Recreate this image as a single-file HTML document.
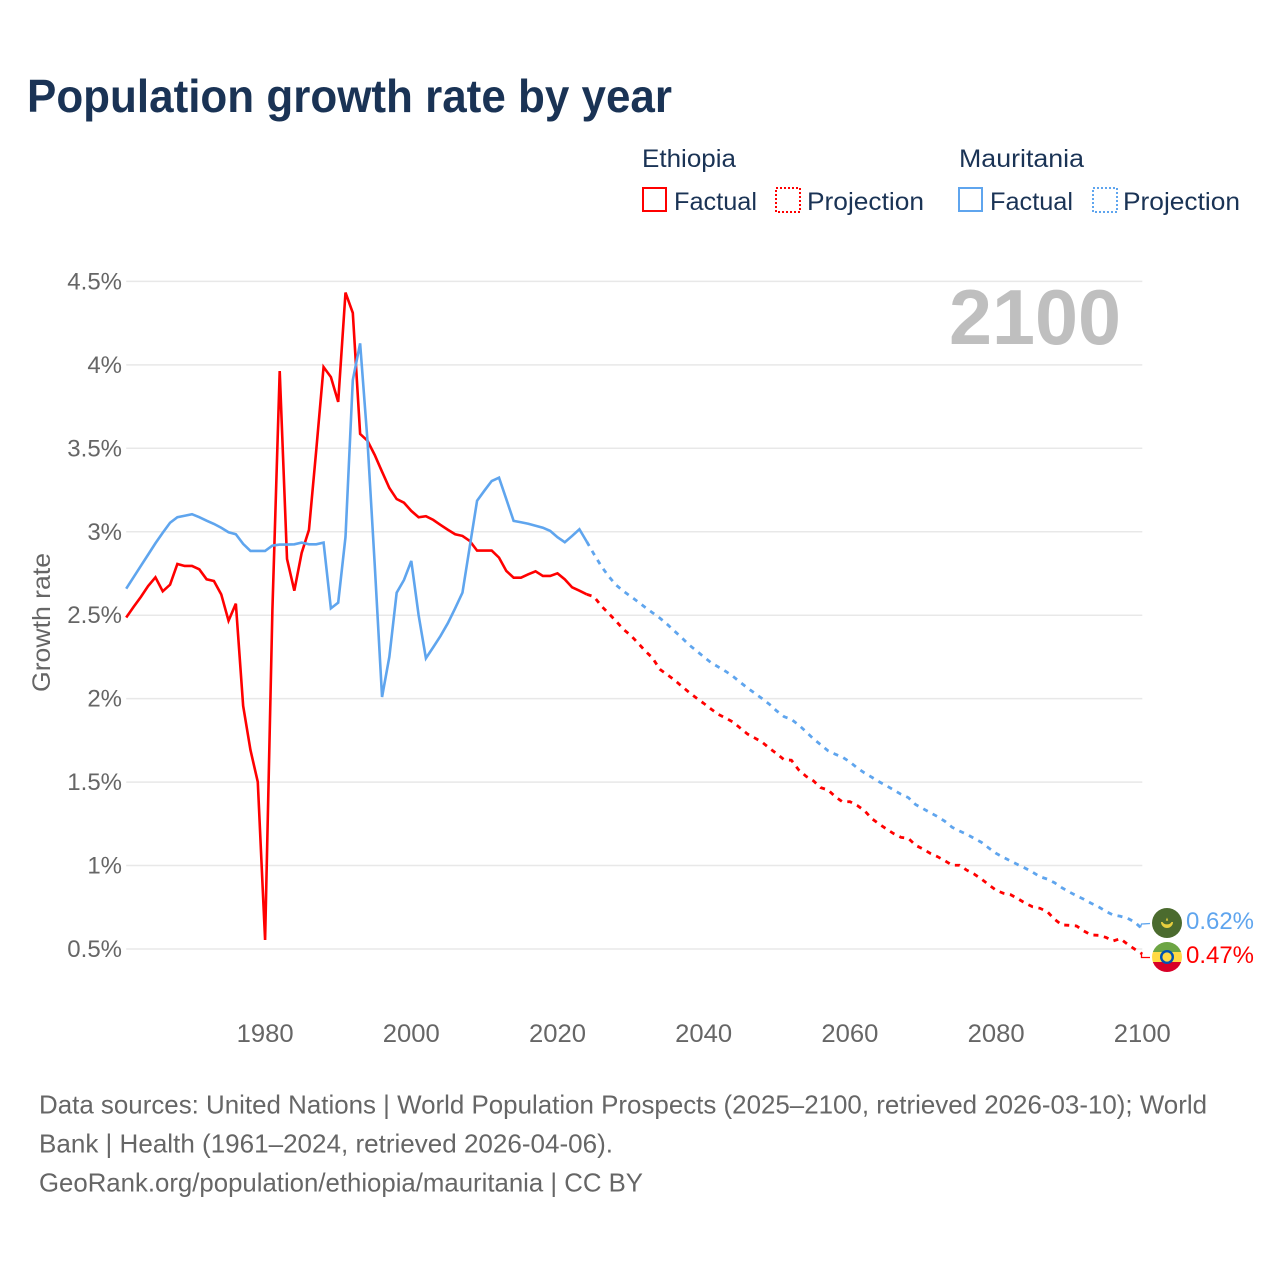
<!DOCTYPE html>
<html lang="en">
<head>
<meta charset="utf-8">
<title>Population growth rate by year</title>
<style>
html,body{margin:0;padding:0;background:#fff;width:1280px;height:1280px;overflow:hidden}
svg{display:block}
text{font-family:"Liberation Sans",sans-serif}
.navy{fill:#1a3355}
.gray{fill:#666}
</style>
</head>
<body>
<svg id="chart" xmlns="http://www.w3.org/2000/svg" width="1280" height="1280" viewBox="0 0 1280 1280">
  <rect width="1280" height="1280" fill="#fff"/>
  <text class="navy" x="27" y="112" font-size="46" font-weight="700" textLength="645" lengthAdjust="spacingAndGlyphs">Population growth rate by year</text>

  <g>
    <text class="navy" x="642" y="167" font-size="25" textLength="94" lengthAdjust="spacingAndGlyphs">Ethiopia</text>
    <g>
      <rect x="643" y="188" width="23" height="23" fill="none" stroke="#ff0000" stroke-width="2"/>
      <text class="navy" x="674" y="210" font-size="25" textLength="83" lengthAdjust="spacingAndGlyphs">Factual</text>
    </g>
    <g>
      <rect x="776" y="188" width="24" height="24" fill="none" stroke="#ff0000" stroke-width="2" stroke-dasharray="2 2"/>
      <text class="navy" x="807" y="210" font-size="25" textLength="117" lengthAdjust="spacingAndGlyphs">Projection</text>
    </g>
    <text class="navy" x="959" y="167" font-size="25" textLength="125" lengthAdjust="spacingAndGlyphs">Mauritania</text>
    <g>
      <rect x="959" y="188" width="23" height="23" fill="none" stroke="#5fa5ee" stroke-width="2"/>
      <text class="navy" x="990" y="210" font-size="25" textLength="83" lengthAdjust="spacingAndGlyphs">Factual</text>
    </g>
    <g>
      <rect x="1093" y="188" width="24" height="24" fill="none" stroke="#5fa5ee" stroke-width="2" stroke-dasharray="2 2"/>
      <text class="navy" x="1123" y="210" font-size="25" textLength="117" lengthAdjust="spacingAndGlyphs">Projection</text>
    </g>
  </g>

  <g id="grid"></g>
  <g id="yticks"></g>
  <g id="xticks"></g>
  <text class="gray" transform="translate(50,692) rotate(-90)" font-size="25" textLength="139" lengthAdjust="spacingAndGlyphs">Growth rate</text>
  <text x="949" y="344" font-size="78" font-weight="700" fill="#bfbfbf" textLength="172" lengthAdjust="spacingAndGlyphs">2100</text>

  <g id="series"></g>

  <g fill="none" stroke-width="1.3">
    <path d="M1140.5 927.5 L1141.5 924 L1150 923.5" stroke="#5fa5ee"/>
    <path d="M1141.5 953 V957.5 H1150" stroke="#ff0000"/>
  </g>

  <defs>
    <clipPath id="eth-clip"><circle cx="1167" cy="957" r="15"/></clipPath>
  </defs>
  <g>
    <circle cx="1167" cy="923" r="15" fill="#4b6b2e"/>
    <path d="M1161 922 A6 6 0 0 0 1173 922 L1171.5 922 A4.8 3.6 0 0 1 1162.5 922 Z" fill="#e8cf3e"/>
    <path d="M1167 917.5 L1168.2 920.6 L1165.8 920.6 Z" fill="#e8cf3e"/>
  </g>
  <g clip-path="url(#eth-clip)">
    <rect x="1152" y="942" width="30" height="10" fill="#6da544"/>
    <rect x="1152" y="952" width="30" height="10" fill="#ffda44"/>
    <rect x="1152" y="962" width="30" height="10" fill="#d80027"/>
    <circle cx="1167" cy="957" r="7" fill="#0052b4"/>
    <circle cx="1167" cy="957" r="4.6" fill="#ffda44"/>
  </g>
  <text x="1186" y="929" font-size="24" fill="#5fa5ee" textLength="68" lengthAdjust="spacingAndGlyphs">0.62%</text>
  <text x="1186" y="963" font-size="24" fill="#ff0000" textLength="68" lengthAdjust="spacingAndGlyphs">0.47%</text>

  <g>
    <text class="gray" x="39" y="1113.5" font-size="26" textLength="1168" lengthAdjust="spacingAndGlyphs">Data sources: United Nations | World Population Prospects (2025–2100, retrieved 2026-03-10); World</text>
    <text class="gray" x="39" y="1152.5" font-size="26" textLength="574" lengthAdjust="spacingAndGlyphs">Bank | Health (1961–2024, retrieved 2026-04-06).</text>
    <text class="gray" x="39" y="1191.5" font-size="26" textLength="604" lengthAdjust="spacingAndGlyphs">GeoRank.org/population/ethiopia/mauritania | CC BY</text>
  </g>
</svg>

<script>
const firstYear = 1961;
const lastFactualYear = 2024;
const yTickValues = [0.5, 1, 1.5, 2, 2.5, 3, 3.5, 4, 4.5];
const yTickLabels = ["0.5%", "1%", "1.5%", "2%", "2.5%", "3%", "3.5%", "4%", "4.5%"];
const xTickYears = [1980, 2000, 2020, 2040, 2060, 2080, 2100];

const ethiopiaFactual = [
  2.486,2.549,2.609,2.675,2.727,2.643,2.683,2.807,2.795,2.795,
  2.775,2.715,2.705,2.625,2.467,2.569,1.956,1.692,1.501,0.554,
  2.531,3.963,2.837,2.647,2.873,3.011,3.490,3.987,3.927,3.778,
  4.433,4.311,3.586,3.546,3.460,3.360,3.262,3.196,3.174,3.125,
  3.087,3.093,3.071,3.041,3.012,2.985,2.975,2.945,2.887,2.887,
  2.887,2.845,2.765,2.725,2.725,2.745,2.763,2.735,2.735,2.751,
  2.715,2.667,2.647,2.625
];
const ethiopiaProjection = [
  2.611,2.555,2.511,2.465,2.416,2.380,2.334,2.286,2.244,2.176,
  2.144,2.112,2.074,2.038,2.004,1.972,1.938,1.906,1.884,1.860,
  1.824,1.788,1.764,1.739,1.703,1.670,1.634,1.631,1.573,1.535,
  1.508,1.467,1.453,1.413,1.381,1.383,1.360,1.329,1.281,1.249,
  1.219,1.191,1.169,1.163,1.121,1.099,1.073,1.053,1.029,1.002,
  1.002,0.972,0.949,0.919,0.885,0.852,0.834,0.825,0.801,0.774,
  0.753,0.744,0.724,0.678,0.644,0.642,0.638,0.608,0.584,0.582,
  0.570,0.548,0.562,0.528,0.498,0.470
];
const mauritaniaFactual = [
  2.659,2.727,2.795,2.863,2.931,2.994,3.054,3.087,3.096,3.105,
  3.087,3.066,3.047,3.024,2.997,2.985,2.927,2.885,2.885,2.885,
  2.917,2.923,2.923,2.925,2.935,2.925,2.925,2.935,2.541,2.575,
  2.969,3.909,4.129,3.550,2.801,2.010,2.251,2.635,2.711,2.825,
  2.501,2.242,2.308,2.376,2.452,2.541,2.635,2.911,3.186,3.246,
  3.304,3.324,3.195,3.065,3.057,3.048,3.036,3.024,3.005,2.967,
  2.937,2.975,3.015,2.941
];
const mauritaniaProjection = [
  2.865,2.793,2.733,2.681,2.645,2.613,2.581,2.547,2.515,2.483,
  2.446,2.405,2.365,2.322,2.287,2.251,2.216,2.190,2.164,2.134,
  2.098,2.064,2.032,2.000,1.966,1.926,1.892,1.876,1.842,1.802,
  1.760,1.724,1.688,1.667,1.649,1.621,1.585,1.555,1.529,1.502,
  1.478,1.453,1.427,1.407,1.365,1.341,1.317,1.293,1.265,1.229,
  1.207,1.187,1.163,1.139,1.105,1.073,1.049,1.027,1.005,0.984,
  0.960,0.933,0.919,0.897,0.867,0.842,0.819,0.798,0.774,0.753,
  0.726,0.704,0.696,0.684,0.660,0.620
];

const SVGNS = "http://www.w3.org/2000/svg";
function xScale(year){ return 126.2 + (year - 1961) * 7.31; }
function yScale(value){ return 949 - (value - 0.5) * 166.9; }
function makeEl(tag){ return document.createElementNS(SVGNS, tag); }

const gridGroup = document.getElementById("grid");
const yTickGroup = document.getElementById("yticks");
yTickValues.forEach(function(v, i){
  const line = makeEl("line");
  
  
  line.setAttribute("x1", xScale(firstYear));
  line.setAttribute("x2", xScale(2100));
  line.setAttribute("y1", yScale(v));
  line.setAttribute("y2", yScale(v));
  line.setAttribute("stroke", "#e8e8e8");
  line.setAttribute("stroke-width", "1.5");
  gridGroup.appendChild(line);

  const label = makeEl("text");
  
  
  label.setAttribute("x", "122");
  label.setAttribute("y", yScale(v) + 8);
  label.setAttribute("text-anchor", "end");
  label.setAttribute("font-size", "24");
  label.setAttribute("class", "gray");
  label.textContent = yTickLabels[i];
  yTickGroup.appendChild(label);
});

const xTickGroup = document.getElementById("xticks");
xTickYears.forEach(function(year){
  const label = makeEl("text");
  
  
  label.setAttribute("x", xScale(year));
  label.setAttribute("y", "1042");
  label.setAttribute("text-anchor", "middle");
  label.setAttribute("font-size", "25");
  label.setAttribute("class", "gray");
  label.setAttribute("textLength", "57");
  label.setAttribute("lengthAdjust", "spacingAndGlyphs");
  label.textContent = String(year);
  xTickGroup.appendChild(label);
});

function pathFrom(values, startYear){
  return values.map(function(v, i){
    return (i ? "L" : "M") + xScale(startYear + i).toFixed(2) + " " + yScale(v).toFixed(2);
  }).join(" ");
}
function projectionPath(factual, projection){
  const lastValue = factual[factual.length - 1];
  return pathFrom([lastValue].concat(projection), lastFactualYear);
}

const seriesGroup = document.getElementById("series");

const ethiopiaProjectionLine = makeEl("path");


ethiopiaProjectionLine.setAttribute("d", projectionPath(ethiopiaFactual, ethiopiaProjection));
ethiopiaProjectionLine.setAttribute("fill", "none");
ethiopiaProjectionLine.setAttribute("stroke", "#ff0000");
ethiopiaProjectionLine.setAttribute("stroke-width", "2.8");
ethiopiaProjectionLine.setAttribute("stroke-dasharray", "5 5.6");
seriesGroup.appendChild(ethiopiaProjectionLine);

const mauritaniaProjectionLine = makeEl("path");


mauritaniaProjectionLine.setAttribute("d", projectionPath(mauritaniaFactual, mauritaniaProjection));
mauritaniaProjectionLine.setAttribute("fill", "none");
mauritaniaProjectionLine.setAttribute("stroke", "#5fa5ee");
mauritaniaProjectionLine.setAttribute("stroke-width", "2.8");
mauritaniaProjectionLine.setAttribute("stroke-dasharray", "5 5.6");
seriesGroup.appendChild(mauritaniaProjectionLine);

const ethiopiaFactualLine = makeEl("path");


ethiopiaFactualLine.setAttribute("d", pathFrom(ethiopiaFactual, firstYear));
ethiopiaFactualLine.setAttribute("fill", "none");
ethiopiaFactualLine.setAttribute("stroke", "#ff0000");
ethiopiaFactualLine.setAttribute("stroke-width", "2.6");
ethiopiaFactualLine.setAttribute("stroke-linejoin", "miter");
seriesGroup.appendChild(ethiopiaFactualLine);

const mauritaniaFactualLine = makeEl("path");


mauritaniaFactualLine.setAttribute("d", pathFrom(mauritaniaFactual, firstYear));
mauritaniaFactualLine.setAttribute("fill", "none");
mauritaniaFactualLine.setAttribute("stroke", "#5fa5ee");
mauritaniaFactualLine.setAttribute("stroke-width", "2.6");
mauritaniaFactualLine.setAttribute("stroke-linejoin", "miter");
seriesGroup.appendChild(mauritaniaFactualLine);
</script>
</body>
</html>
